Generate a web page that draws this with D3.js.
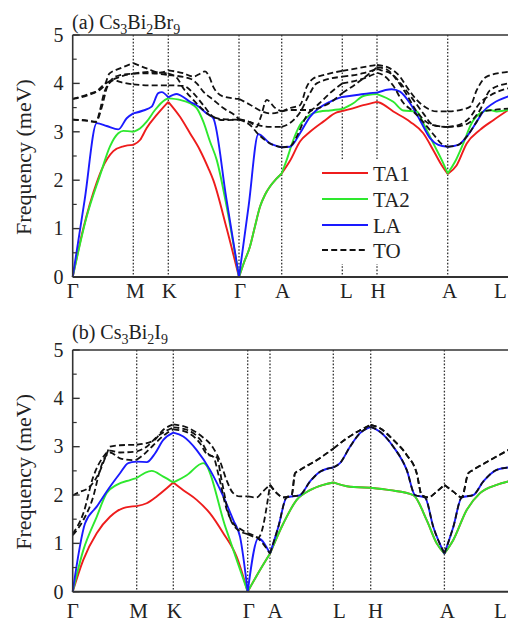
<!DOCTYPE html>
<html><head><meta charset="utf-8">
<script src="https://cdn.jsdelivr.net/npm/d3@7"></script>
<style>
body{margin:0;background:#fff;}
svg{display:block;}
svg text{font-family:"Liberation Serif","DejaVu Serif","Times New Roman",serif;fill:#222;}
</style>
</head><body><svg id="c" width="508" height="623" font-family="Liberation Serif, DejaVu Serif, serif"></svg>
<script>
// ---------- data ----------
const kLabels = ["Γ","M","K","Γ","A","L","H","A","L"];
const kTicksA = [0,0.606,0.956,1.663,2.09,2.696,3.043,3.75,4.356];
const kTicksB = [0,0.64,1.006,1.75,1.973,2.606,2.98,3.717,4.356];
const freqTicks = [0,1,2,3,4,5];
const seriesNames = ["TA1","TA2","LA","TO"];

// Panel (a) Cs3Bi2Br9 : [k, frequency meV]
const ta1A = [[0,0],[0.106,1.0],[0.24,1.95],[0.29,2.22],[0.406,2.6],[0.506,2.7],[0.606,2.73],[0.673,2.83],[0.74,3.08],[0.84,3.35],[0.956,3.62],[1.073,3.31],[1.173,2.97],[1.273,2.62],[1.356,2.25],[1.406,2.0],[1.54,1.0],[1.663,0],[1.713,0.3],[1.773,0.63],[1.823,1.05],[1.873,1.45],[1.923,1.7],[1.973,1.87],[2.033,2.02],[2.09,2.14],[2.173,2.4],[2.273,2.8],[2.373,3.0],[2.506,3.21],[2.64,3.4],[2.696,3.43],[2.773,3.47],[2.906,3.55],[3.043,3.62],[3.073,3.6],[3.206,3.42],[3.373,3.21],[3.506,2.97],[3.606,2.62],[3.69,2.31],[3.75,2.13],[3.84,2.31],[3.94,2.76],[4.073,3.04],[4.206,3.24],[4.356,3.45]];
const ta2A = [[0,0],[0.14,1.25],[0.273,2.1],[0.373,2.7],[0.456,2.97],[0.506,3.02],[0.606,3.0],[0.673,3.07],[0.74,3.21],[0.823,3.45],[0.923,3.66],[0.956,3.69],[1.073,3.66],[1.173,3.59],[1.24,3.49],[1.306,3.21],[1.373,2.8],[1.44,2.42],[1.54,1.45],[1.663,0],[1.713,0.3],[1.773,0.63],[1.823,1.05],[1.873,1.45],[1.923,1.7],[1.973,1.87],[2.033,2.02],[2.09,2.14],[2.14,2.42],[2.206,2.83],[2.273,3.14],[2.373,3.35],[2.473,3.42],[2.573,3.44],[2.696,3.47],[2.806,3.59],[2.906,3.74],[3.043,3.78],[3.206,3.62],[3.306,3.44],[3.44,3.42],[3.506,3.18],[3.606,2.76],[3.69,2.42],[3.75,2.14],[3.823,2.38],[3.906,2.76],[3.99,3.18],[4.073,3.38],[4.173,3.45],[4.24,3.42],[4.356,3.45]];
const laA = [[0,0],[0.12,1.6],[0.24,3.18],[0.34,3.12],[0.456,3.05],[0.54,3.28],[0.606,3.38],[0.706,3.44],[0.79,3.52],[0.856,3.8],[0.89,3.82],[0.956,3.71],[1.04,3.78],[1.073,3.76],[1.173,3.62],[1.24,3.55],[1.34,3.38],[1.406,3.28],[1.535,1.64],[1.663,0],[1.76,1.48],[1.856,2.95],[1.973,2.76],[2.09,2.68],[2.173,2.69],[2.273,2.97],[2.373,3.31],[2.44,3.45],[2.573,3.62],[2.696,3.72],[2.84,3.76],[2.973,3.8],[3.043,3.81],[3.19,3.88],[3.273,3.83],[3.373,3.59],[3.473,3.24],[3.573,2.87],[3.656,2.73],[3.75,2.69],[3.856,2.73],[3.94,2.9],[4.04,3.21],[4.106,3.42],[4.206,3.59],[4.356,3.73]];
const to1A = [[0,3.68],[0.173,3.79],[0.273,3.87],[0.323,3.98],[0.366,4.2],[0.473,4.31],[0.606,4.42],[0.74,4.31],[0.873,4.22],[0.956,4.27],[1.106,4.21],[1.206,4.14],[1.273,4.2],[1.323,4.25],[1.363,4.15],[1.406,3.93],[1.506,3.73],[1.663,3.68],[1.773,3.56],[1.893,3.42],[1.973,3.38],[2.09,3.42],[2.173,3.49],[2.273,3.55],[2.34,3.93],[2.406,4.1],[2.506,4.17],[2.696,4.26],[2.84,4.31],[2.973,4.36],[3.043,4.38],[3.173,4.31],[3.273,4.14],[3.34,3.93],[3.44,3.66],[3.54,3.49],[3.64,3.42],[3.75,3.42],[3.873,3.45],[3.973,3.52],[4.04,3.86],[4.14,4.14],[4.356,4.24]];
const to2A = [[0,3.68],[0.173,3.77],[0.243,3.84],[0.303,3.96],[0.373,4.05],[0.453,4.12],[0.523,4.17],[0.606,4.2],[0.773,4.21],[0.956,4.17],[1.173,4.1],[1.24,4.0],[1.306,3.83],[1.406,3.66],[1.506,3.49],[1.64,3.31],[1.663,3.26],[1.773,3.2],[1.873,3.13],[1.973,3.1],[2.09,3.1],[2.173,3.18],[2.273,3.4],[2.373,3.8],[2.44,4.0],[2.696,4.14],[2.906,4.21],[3.043,4.3],[3.073,4.28],[3.206,4.17],[3.306,3.93],[3.406,3.66],[3.506,3.38],[3.606,3.14],[3.75,3.1],[3.873,3.12],[3.973,3.2],[4.073,3.45],[4.173,3.86],[4.356,4.0]];
const to3A = [[0,3.25],[0.123,3.24],[0.233,3.2],[0.273,3.45],[0.313,3.8],[0.363,4.0],[0.413,4.07],[0.473,4.03],[0.606,3.98],[0.773,3.96],[0.956,3.96],[1.106,3.95],[1.206,3.8],[1.306,3.55],[1.406,3.31],[1.506,3.24],[1.663,3.25],[1.773,3.2],[1.84,3.1],[1.88,3.3],[1.94,3.66],[2.02,3.5],[2.09,3.42],[2.173,3.45],[2.273,3.45],[2.373,3.45],[2.473,3.6],[2.573,3.8],[2.696,4.0],[2.906,4.1],[3.043,4.22],[3.106,4.17],[3.206,3.95],[3.306,3.6],[3.406,3.42],[3.506,3.2],[3.606,2.95],[3.69,2.75],[3.75,2.69],[3.856,2.73],[3.94,2.9],[4.04,3.21],[4.106,3.42],[4.206,3.45],[4.356,3.48]];
const to4A = [[0,3.25],[0.173,3.22],[0.233,3.21],[0.29,3.5],[0.34,3.9],[0.41,4.12],[0.473,4.17],[0.606,4.2],[0.773,4.24],[0.956,4.2],[1.04,4.12],[1.106,3.9],[1.206,3.66],[1.306,3.45],[1.406,3.3],[1.506,3.26],[1.663,3.25],[1.773,3.14],[1.856,2.95],[1.973,2.76],[2.09,2.68],[2.173,2.7],[2.24,2.9],[2.306,3.2],[2.373,3.42],[2.473,3.5],[2.573,3.6],[2.696,3.8],[2.84,4.0],[3.043,4.33],[3.13,4.3],[3.23,4.1],[3.33,3.8],[3.44,3.42],[3.54,3.2],[3.64,3.12],[3.75,3.1],[3.873,3.15],[3.973,3.3],[4.073,3.6],[4.173,3.75],[4.356,3.9]];

// Panel (b) Cs3Bi2I9
const ta1B = [[0,0],[0.106,0.66],[0.24,1.21],[0.373,1.55],[0.506,1.73],[0.64,1.77],[0.74,1.83],[0.84,1.97],[0.94,2.14],[1.006,2.26],[1.106,2.1],[1.24,1.9],[1.373,1.62],[1.506,1.21],[1.64,0.72],[1.75,0],[1.873,0.45],[1.973,0.79],[2.106,1.41],[2.24,1.9],[2.373,2.1],[2.506,2.21],[2.606,2.26],[2.773,2.17],[2.98,2.15],[3.173,2.1],[3.406,2.0],[3.54,1.48],[3.64,1.0],[3.717,0.79],[3.806,1.07],[3.94,1.69],[4.073,2.04],[4.24,2.21],[4.356,2.28]];
const ta2B = [[0,0],[0.106,0.86],[0.24,1.55],[0.34,2.04],[0.44,2.21],[0.573,2.31],[0.64,2.35],[0.79,2.5],[0.906,2.38],[1.006,2.26],[1.14,2.41],[1.306,2.66],[1.53,1.32],[1.75,0],[1.873,0.45],[1.973,0.79],[2.106,1.41],[2.24,1.9],[2.373,2.1],[2.506,2.21],[2.606,2.26],[2.773,2.17],[2.98,2.15],[3.173,2.1],[3.406,2.0],[3.54,1.48],[3.64,1.0],[3.717,0.79],[3.806,1.07],[3.94,1.69],[4.073,2.04],[4.24,2.21],[4.356,2.28]];
const laB = [[0,0],[0.123,1.41],[0.24,1.76],[0.373,2.17],[0.473,2.45],[0.556,2.66],[0.64,2.69],[0.74,2.68],[0.823,2.86],[0.906,3.14],[1.006,3.29],[1.106,3.21],[1.24,2.93],[1.373,2.52],[1.506,1.97],[1.606,1.48],[1.673,1.14],[1.75,0],[1.856,1.1],[1.973,0.79],[2.056,1.34],[2.14,1.95],[2.273,2.0],[2.373,2.28],[2.473,2.48],[2.606,2.57],[2.673,2.66],[2.773,3.0],[2.873,3.28],[2.98,3.41],[3.073,3.31],[3.206,3.0],[3.34,2.52],[3.423,2.0],[3.523,1.95],[3.606,1.34],[3.717,0.79],[3.806,1.34],[3.89,1.95],[4.006,2.0],[4.106,2.28],[4.24,2.52],[4.356,2.57]];
const to1B = [[0,1.99],[0.073,2.07],[0.14,2.12],[0.22,2.3],[0.273,2.5],[0.34,2.85],[0.373,3.0],[0.473,3.03],[0.64,3.04],[0.806,3.12],[0.906,3.35],[1.006,3.46],[1.14,3.4],[1.273,3.24],[1.406,2.97],[1.473,2.7],[1.54,2.3],[1.6,2.05],[1.673,1.97],[1.75,1.97],[1.84,1.95],[1.9,2.07],[1.973,2.21],[2.04,2.04],[2.106,1.95],[2.19,2.0],[2.223,2.45],[2.273,2.52],[2.44,2.72],[2.606,2.96],[2.74,3.17],[2.873,3.34],[2.98,3.45],[3.073,3.38],[3.206,3.14],[3.34,2.83],[3.44,2.45],[3.49,2.0],[3.556,1.95],[3.64,2.07],[3.717,2.21],[3.806,2.07],[3.89,1.95],[3.956,2.45],[4.006,2.52],[4.173,2.72],[4.356,2.93]];
const to2B = [[0,1.17],[0.106,1.48],[0.206,1.97],[0.273,2.52],[0.34,2.83],[0.373,2.88],[0.473,2.76],[0.606,2.72],[0.64,2.73],[0.706,2.83],[0.806,3.03],[0.94,3.28],[1.006,3.36],[1.14,3.3],[1.273,3.07],[1.34,2.85],[1.406,2.79],[1.46,2.4],[1.54,1.7],[1.606,1.41],[1.673,1.3],[1.75,1.21],[1.856,1.1],[1.973,0.79],[2.056,1.34],[2.14,1.95],[2.273,2.0],[2.373,2.28],[2.473,2.48],[2.606,2.57],[2.673,2.66],[2.773,3.0],[2.873,3.28],[2.98,3.41],[3.073,3.31],[3.206,3.0],[3.34,2.52],[3.423,2.0],[3.523,1.95],[3.606,1.34],[3.717,0.79],[3.806,1.34],[3.89,1.95],[4.006,2.0],[4.106,2.28],[4.24,2.52],[4.356,2.57]];
const to3B = [[0,1.2],[0.106,1.62],[0.206,2.38],[0.306,2.79],[0.373,2.92],[0.473,2.88],[0.64,2.9],[0.74,3.0],[0.84,3.2],[1.006,3.4],[1.14,3.35],[1.273,3.15],[1.373,2.82],[1.44,2.78],[1.49,2.3],[1.56,1.6],[1.64,1.3],[1.75,1.19],[1.856,1.12],[1.973,2.21],[2.04,2.04],[2.106,1.95],[2.19,2.0],[2.223,2.45],[2.273,2.52],[2.44,2.72],[2.606,2.96],[2.74,3.17],[2.873,3.34],[2.98,3.45],[3.073,3.38],[3.206,3.14],[3.34,2.83],[3.44,2.45],[3.49,2.0],[3.556,1.95],[3.64,2.07],[3.717,2.21],[3.806,2.07],[3.89,1.95],[3.956,2.45],[4.006,2.52],[4.173,2.72],[4.356,2.93]];

// ---------- drawing ----------
const svg = d3.select("#c");
const FONT = "Liberation Serif, DejaVu Serif, serif";
const colors = {TA1:"#ee1c1c", TA2:"#2ee82e", LA:"#1a1aff", TO:"#111"};

const panels = [
  {ticks:kTicksA, top:35, bottom:277, title:["(a) Cs","3","Bi","2","Br","9"], titleY:28.5, labelY:297.5,
   labelDx:[0,2,1,1,1,4,1,2,-8], legend:true,
   series:{TA1:[ta1A],TA2:[ta2A],LA:[laA],TO:[to1A,to2A,to3A,to4A]}},
  {ticks:kTicksB, top:350, bottom:591.7, title:["(b) Cs","3","Bi","2","I","9"], titleY:339, labelY:618,
   labelDx:[0,2,1,1,5,6,5,3,-8], legend:false,
   series:{TA1:[ta1B],TA2:[ta2B],LA:[laB],TO:[to1B,to2B,to3B]}}
];

const xLeft = 72.7, xRight = 508.3;

function splitSegments(pts, ticks){
  const inner = ticks.slice(1, -1);
  const segs = []; let cur = [];
  pts.forEach(p => {
    cur.push(p);
    if (cur.length > 1 && inner.some(t => Math.abs(t - p[0]) < 1e-6)) {
      segs.push(cur); cur = [p];
    }
  });
  if (cur.length > 1) segs.push(cur);
  return segs;
}

panels.forEach(P => {
  const x = d3.scaleLinear().domain([0, P.ticks[P.ticks.length-1]]).range([xLeft, xRight]);
  const y = d3.scaleLinear().domain([0,5]).range([P.bottom, P.top]);
  const g = svg.append("g").attr("font-family", FONT);

  g.selectAll(".vl").data(P.ticks.slice(1,-1)).enter().append("line")
    .attr("x1", d=>x(d)).attr("x2", d=>x(d)).attr("y1", P.top).attr("y2", P.bottom)
    .attr("stroke","#333").attr("stroke-width",1.3).attr("stroke-dasharray","1.6,1.8");

  if (P.legend) {
    g.append("rect").attr("x",318).attr("y",160).attr("width",100).attr("height",104).attr("fill","#fff");
  }

  const line = d3.line().x(d=>x(d[0])).y(d=>y(d[1])).curve(d3.curveMonotoneX);
  seriesNames.forEach(name => {
    P.series[name].forEach(branch => {
      splitSegments(branch, P.ticks).forEach(seg => {
        g.append("path").attr("d", line(seg)).attr("fill","none")
          .attr("stroke", colors[name])
          .attr("stroke-width", name==="TO"?1.8:1.9)
          .attr("stroke-dasharray", name==="TO"?"6,3.2":null)
          .attr("stroke-linejoin","round");
      });
    });
  });

  g.append("line").attr("x1",xLeft).attr("x2",xRight+2).attr("y1",P.top).attr("y2",P.top)
    .attr("stroke","#333").attr("stroke-width",1.5);
  g.append("line").attr("x1",xLeft).attr("x2",xRight+2).attr("y1",P.bottom).attr("y2",P.bottom)
    .attr("stroke","#333").attr("stroke-width",2);
  g.append("line").attr("x1",xLeft).attr("x2",xLeft).attr("y1",P.top).attr("y2",P.bottom)
    .attr("stroke","#333").attr("stroke-width",1.6);

  const minor = d3.range(0.5,5,1);
  g.selectAll(".yt").data(freqTicks).enter().append("line")
    .attr("x1",xLeft).attr("x2",xLeft+7).attr("y1",d=>y(d)).attr("y2",d=>y(d))
    .attr("stroke","#333").attr("stroke-width",1.4);
  g.selectAll(".ym").data(minor).enter().append("line")
    .attr("x1",xLeft).attr("x2",xLeft+4).attr("y1",d=>y(d)).attr("y2",d=>y(d))
    .attr("stroke","#333").attr("stroke-width",1.2);
  g.selectAll(".yl").data(freqTicks).enter().append("text")
    .attr("x",63.5).attr("y",d=>y(d)).attr("dy","0.34em").attr("text-anchor","end")
    .attr("font-family",FONT).attr("font-size",20).text(d=>d);

  g.selectAll(".xl").data(P.ticks).enter().append("text")
    .attr("x",(d,i)=>x(d)+P.labelDx[i]).attr("y",P.labelY).attr("text-anchor","middle")
    .attr("font-family",FONT).attr("font-size",21).text((d,i)=>kLabels[i]);

  const midY = (P.top + P.bottom)/2 + 1;
  g.append("text").attr("transform",`translate(31,${midY}) rotate(-90)`)
    .attr("text-anchor","middle").attr("font-family",FONT).attr("font-size",22).text("Frequency (meV)");

  const t = g.append("text").attr("x",72).attr("y",P.titleY).attr("font-family",FONT).attr("font-size",20);
  P.title.forEach((s,i) => {
    const sub = i % 2 === 1;
    t.append("tspan").text(s)
      .attr("font-size", sub?14:20)
      .attr("dy", sub? 5 : (i>0? -5 : 0));
  });

  if (P.legend) {
    const ly = [173,199,225,250];
    seriesNames.forEach((name,i) => {
      g.append("line").attr("x1",322).attr("x2",368).attr("y1",ly[i]).attr("y2",ly[i])
        .attr("stroke",colors[name]).attr("stroke-width",1.9)
        .attr("stroke-dasharray", name==="TO"?"6,3.2":null);
      g.append("text").attr("x",373).attr("y",ly[i]+7.5).attr("font-family",FONT).attr("font-size",21).text(name);
    });
  }
});
</script>
</body></html>
